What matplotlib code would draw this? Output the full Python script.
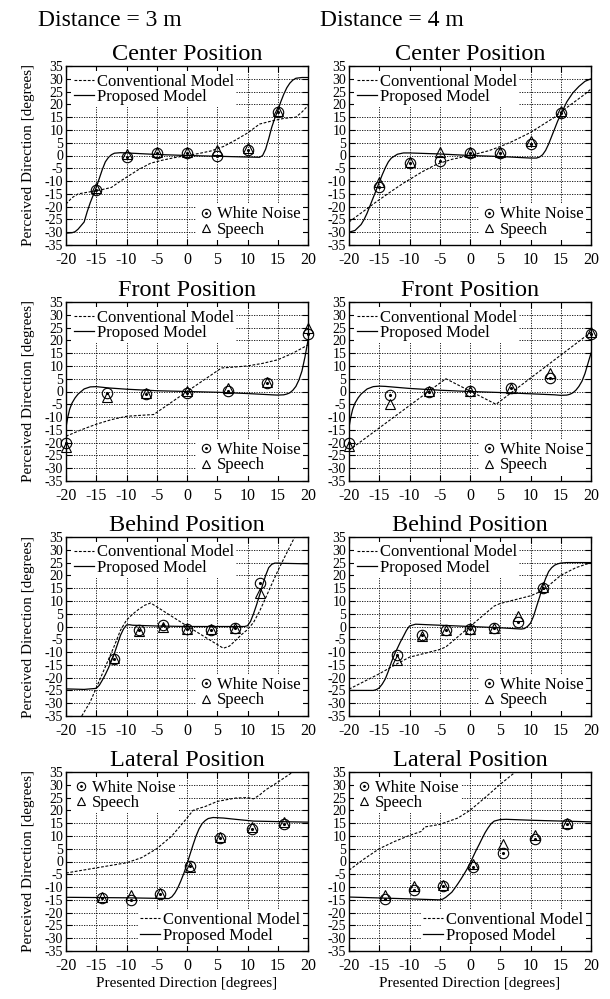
"""Perceived vs presented direction, 3 m and 4 m, four loudspeaker positions."""

import matplotlib
matplotlib.use("Agg")
import matplotlib.pyplot as plt

plt.rcParams["font.family"] = ["Liberation Serif", "DejaVu Serif"]
plt.rcParams["axes.unicode_minus"] = False

# ---- data ------------------------------------------------------------------
distances = ["Distance = 3 m", "Distance = 4 m"]
positions = ["Center Position", "Front Position", "Behind Position", "Lateral Position"]

# Center, 3 m
center3_x = [-15, -10, -5, 0, 5, 10, 15]
center3_noise = [-13.6, -0.6, 0.9, 0.9, 0.0, 2.0, 17.0]
center3_speech = [-12.7, 0.6, 1.2, 1.2, 2.2, 2.8, 17.3]
center3_conv_x = [-20, -19, -18, -16, -14, -12.5, -11, -10, -8, -6, -4, -2, 0, 2, 4, 6, 8, 10, 12, 14, 16, 18, 19, 20]
center3_conv_y = [-19, -16.5, -15, -14.2, -13.3, -12.5, -10, -8.5, -5.5, -3, -1.8, -0.8, 0, 0.8, 1.8, 3.5, 6, 8.8, 12.3, 13.5, 14.5, 15, 17, 19.5]
center3_prop_x = [-20, -19, -18.5, -18, -17, -16.5, -16, -15.5, -15, -14.5, -14, -13.5, -13, -12.5, -12, -11, -10, -5, 0, 5, 10, 12, 12.5, 13, 13.5, 14, 14.5, 15, 15.5, 16, 16.5, 17, 17.5, 18, 19, 20]
center3_prop_y = [-30.4, -30.2, -29.8, -28.8, -26, -22, -18.5, -15.5, -12.5, -9, -5.5, -2.5, -0.8, 0.3, 0.9, 1.1, 1.0, 0.4, 0, -0.3, -0.6, -0.7, 0, 2.5, 6.5, 11, 14.5, 17.5, 21, 24, 26.5, 28.3, 29.5, 30.2, 30.5, 30.5]

# Center, 4 m
center4_x = [-15, -10, -5, 0, 5, 10, 15]
center4_noise = [-12.3, -3.0, -2.0, 0.9, 0.9, 4.5, 16.7]
center4_speech = [-10.5, -2.6, 1.2, 1.3, 1.5, 5.7, 17.3]
center4_conv_x = [-20, -18, -16, -15, -13, -11, -10, -8, -6, -5, -3, 0, 3, 5, 7, 10, 12, 14, 15, 17, 19, 20]
center4_conv_y = [-26, -22.5, -19, -17.3, -14, -10.8, -9.4, -6.5, -4, -3, -1.5, 0, 1.8, 3.5, 5.5, 9, 12, 15, 17, 20.5, 24, 26]
center4_prop_x = [-20, -19, -18, -17.5, -17, -16.5, -16, -15.5, -15, -14.5, -14, -13.5, -13, -12, -11, -10, -5, 0, 5, 10, 11, 11.5, 12, 12.5, 13, 13.5, 14, 14.5, 15, 15.5, 16, 17, 18, 19, 20]
center4_prop_y = [-30, -29.3, -27, -25, -22.5, -19.5, -16.5, -13.5, -10.5, -7.5, -4.8, -2.5, -1, 0.5, 1, 1, 0.6, 0, -0.4, -1, -1, -0.6, 0.3, 2, 4.5, 7.5, 10.5, 13.5, 16, 18.5, 21, 24.5, 27, 29, 30]

# Front, 3 m
front3_x = [-20, -13.3, -6.7, 0, 6.7, 13.3, 20]
front3_noise = [-20.3, -0.5, -0.8, -0.5, 0.1, 3.4, 22.6]
front3_speech = [-21.8, -2.1, -0.5, 0.3, 1.2, 3.7, 24.9]
front3_conv_x = [-20, -17.5, -15, -12.5, -10, -7.5, -5.5, 0, 5.7, 7.5, 10, 12.5, 15, 17.5, 20]
front3_conv_y = [-17.5, -15, -12.8, -11, -9.7, -9.3, -9, 0, 9.2, 9.5, 10, 11, 12.4, 15, 18.2]
front3_prop_x = [-20, -19.7, -19.4, -19, -18.5, -18, -17, -16, -15, -13, -10, -5, 0, 5, 10, 14, 15, 16, 16.5, 17, 17.5, 18, 18.5, 19, 19.5, 20]
front3_prop_y = [-14, -10, -7, -4.5, -2.5, -1, 1, 1.8, 1.9, 1.4, 0.9, 0.3, 0, -0.3, -0.8, -1.3, -1.4, -1.3, -1, -0.5, 0.5, 2, 4.5, 8, 13.5, 20]

# Front, 4 m
front4_x = [-20, -13.3, -6.7, 0, 6.7, 13.3, 20]
front4_noise = [-20.1, -1.4, 0.0, 0.3, 1.4, 5.4, 22.6]
front4_speech = [-21.2, -4.7, 0.3, 0.3, 1.4, 7.1, 23.2]
front4_conv_x = [-20, -4, 4.3, 20]
front4_conv_y = [-23, 5, -5, 23.2]
front4_prop_x = [-20, -19.7, -19.4, -19, -18.5, -18, -17, -16, -15, -14, -10, -5, 0, 5, 10, 14, 15, 16, 16.5, 17, 17.5, 18, 18.5, 19, 19.5, 20]
front4_prop_y = [-14, -10, -7, -4.5, -2.5, -1, 1, 1.9, 2.1, 2, 1.2, 0.5, 0, -0.4, -0.9, -1.3, -1.5, -1.4, -1.1, -0.5, 0.5, 2, 4, 7, 11, 15]

# Behind, 3 m
behind3_x = [-12, -8, -4, 0, 4, 8, 12]
behind3_noise = [-12.7, -1.3, 0.4, -1.0, -1.3, -0.4, 16.9]
behind3_speech = [-12.3, -1.7, 0.0, -0.8, -1.0, -0.4, 13.2]
behind3_conv_x = [-17.4, -16, -15, -14, -13, -12, -11, -10, -9, -8, -7, -6, 0, 6, 7, 8, 9, 10, 11, 12, 13, 14, 15, 16, 17, 17.8]
behind3_conv_y = [-35, -29.5, -24, -18.5, -13, -7.5, -1.5, 2.5, 4.8, 6.7, 8.3, 9.2, 0.2, -8.5, -7.7, -5.5, -3.2, -1.2, 1.6, 6, 11.2, 16.5, 21.7, 26.5, 31.2, 35]
behind3_prop_x = [-20, -17, -15, -14.5, -14, -13.5, -13, -12.5, -12, -11.5, -11, -10.5, -10, -9.5, -9, -5, 0, 5, 9, 9.5, 10, 10.5, 11, 11.5, 12, 12.5, 13, 13.5, 14, 14.5, 15, 16, 20]
behind3_prop_y = [-24.4, -24.6, -24.2, -23, -21, -18.8, -16.3, -13.5, -10.5, -7, -3.5, -1, 0.6, 0.7, 0.5, 0.2, 0, 0, 0, 0, 0.3, 2, 5, 8.5, 12.3, 16.3, 20, 23, 24.3, 24.8, 24.8, 24.7, 24.5]

# Behind, 4 m
behind4_x = [-12, -8, -4, 0, 4, 8, 12]
behind4_noise = [-11.0, -3.5, -1.3, -1.0, -0.6, 1.6, 15.2]
behind4_speech = [-13.2, -3.9, -1.3, -1.0, -0.6, 4.2, 15.6]
behind4_conv_x = [-20, -17.5, -15, -12, -10, -7.5, -5, -4, -3, -2, -1, 0, 1, 2, 3, 4, 5, 7.5, 10, 12, 13, 15, 17.5, 20]
behind4_conv_y = [-24.5, -21.5, -18.5, -14.5, -12, -10.5, -9, -8, -6, -4, -2, 0, 2, 4, 6, 8, 9, 10.5, 12, 14, 16, 20, 23, 25]
behind4_prop_x = [-20, -16, -15.5, -15, -14.5, -14, -13.5, -13, -12.5, -12, -11.5, -11, -10.5, -10, -9, -5, 0, 5, 8.5, 9, 9.5, 10, 10.5, 11, 11.5, 12, 12.5, 13, 13.5, 14, 14.5, 15, 16, 20]
behind4_prop_y = [-25, -25, -24.7, -24, -22.5, -20.5, -17.5, -14, -11, -8.5, -6, -3.8, -1.5, 0.2, 0.9, 0.5, 0, -0.5, -1, -0.8, 0, 1.3, 4, 7.8, 11.5, 15.5, 18.8, 21.5, 23, 24, 24.5, 24.8, 25, 25]

# Lateral, 3 m
lateral3_x = [-14, -9.3, -4.5, 0.5, 5.5, 10.8, 16]
lateral3_noise = [-14.3, -15.2, -12.8, -1.9, 9.3, 12.6, 14.8]
lateral3_speech = [-13.9, -13.2, -12.3, -2.2, 9.6, 13.5, 15.4]
lateral3_conv_x = [-20, -17.5, -15, -12.5, -10, -7.5, -5, -2.5, 0, 1, 2, 3, 5, 8, 10, 11, 12, 13, 15, 17.5]
lateral3_conv_y = [-4.5, -3.5, -2.5, -1.5, -0.5, 1.5, 5, 10, 17, 20, 20.8, 21.5, 23.5, 24.8, 25, 24.5, 26, 28, 31, 35]
lateral3_prop_x = [-20, -10, -5, -3, -2.5, -2, -1.5, -1, -0.5, 0, 0.5, 1, 1.5, 2, 2.5, 3, 3.5, 4.3, 6, 8, 11, 15, 20]
lateral3_prop_y = [-14, -14.2, -14.4, -14.5, -13.8, -12.3, -10.2, -7.5, -4.5, -1, 2.8, 6.5, 10, 12.8, 14.8, 16, 16.8, 17.2, 17, 16.5, 15.8, 15.6, 15.4]

# Lateral, 4 m
lateral4_x = [-14, -9.3, -4.5, 0.5, 5.5, 10.8, 16]
lateral4_noise = [-14.5, -11.3, -9.6, -2.2, 3.5, 8.9, 14.5]
lateral4_speech = [-13.2, -9.7, -9.1, -1.1, 7.0, 10.2, 15.1]
lateral4_conv_x = [-20, -17.5, -15, -12.5, -10, -8, -7.5, -5, -2, 0, 2.5, 5, 7.5]
lateral4_conv_y = [-3.4, 1, 5, 7.8, 10.2, 11.8, 13.5, 14.5, 17, 20, 25, 30.2, 35]
lateral4_prop_x = [-20, -11.6, -5, -4.5, -4, -3.5, -3, -2.5, -2, -1.5, -1, -0.5, 0, 0.5, 1, 1.5, 2, 2.5, 3, 3.5, 4, 5, 6, 10.5, 20]
lateral4_prop_y = [-13.9, -14.5, -15, -14.7, -14, -13, -12, -10.4, -8.7, -6.9, -5, -3, -0.8, 1.8, 4.3, 6.6, 9, 11.3, 13.2, 14.8, 15.8, 16.4, 16.5, 16.1, 15.5]

xticks = list(range(-20, 25, 5))
yticks = list(range(-35, 40, 5))

panels = [
    [(center3_x, center3_noise, center3_speech, center3_conv_x, center3_conv_y, center3_prop_x, center3_prop_y),
     (center4_x, center4_noise, center4_speech, center4_conv_x, center4_conv_y, center4_prop_x, center4_prop_y)],
    [(front3_x, front3_noise, front3_speech, front3_conv_x, front3_conv_y, front3_prop_x, front3_prop_y),
     (front4_x, front4_noise, front4_speech, front4_conv_x, front4_conv_y, front4_prop_x, front4_prop_y)],
    [(behind3_x, behind3_noise, behind3_speech, behind3_conv_x, behind3_conv_y, behind3_prop_x, behind3_prop_y),
     (behind4_x, behind4_noise, behind4_speech, behind4_conv_x, behind4_conv_y, behind4_prop_x, behind4_prop_y)],
    [(lateral3_x, lateral3_noise, lateral3_speech, lateral3_conv_x, lateral3_conv_y, lateral3_prop_x, lateral3_prop_y),
     (lateral4_x, lateral4_noise, lateral4_speech, lateral4_conv_x, lateral4_conv_y, lateral4_prop_x, lateral4_prop_y)],
]

# ---- layout -----------------------------------------------------------------
W, H = 610, 999
fig = plt.figure(figsize=(W / 100, H / 100), dpi=100)

col_left = [66, 349]
row_top = [66, 302, 537, 772]
ax_w, ax_h = 242, 179

legend_kw = dict(frameon=True, facecolor="white", edgecolor="none", framealpha=1.0,
                 fancybox=False, fontsize=12, borderpad=0.15, labelspacing=-0.05,
                 handletextpad=0.2, borderaxespad=0.3)

for r, row in enumerate(panels):
    for c, (mx, noise, speech, cx, cy, px, py) in enumerate(row):
        ax = fig.add_axes([col_left[c] / W, 1 - (row_top[r] + ax_h) / H, ax_w / W, ax_h / H])

        conv, = ax.plot(cx, cy, color="k", lw=0.8, ls=(0, (2.5, 1.5)))
        prop, = ax.plot(px, py, color="k", lw=0.9)

        circ, = ax.plot(mx, noise, "o", ms=7.5, mfc="none", mec="k", mew=0.8, clip_on=False)
        dot, = ax.plot(mx, noise, ".", ms=2.5, color="k", clip_on=False)
        tri, = ax.plot(mx, speech, "^", ms=7, mfc="none", mec="k", mew=0.8, clip_on=False)

        ax.set_xlim(-20, 20)
        ax.set_ylim(-35, 35)
        ax.set_xticks(xticks)
        ax.set_yticks(yticks)
        ax.grid(True, color="k", lw=0.6, ls=(0, (1.5, 1.5)))
        ax.tick_params(direction="in", top=True, right=True, length=4, width=0.8)
        ax.tick_params(axis="x", labelsize=11.5, pad=5)
        ax.tick_params(axis="y", labelsize=10, pad=2)
        for sp in ax.spines.values():
            sp.set_linewidth(1.0)

        ax.set_title(positions[r], fontsize=17.5, pad=4)
        if c == 0:
            ax.set_ylabel("Perceived Direction [degrees]", fontsize=11, labelpad=7)
        if r == len(panels) - 1:
            ax.set_xlabel("Presented Direction [degrees]", fontsize=11, labelpad=2)

        if r < 3:
            model_loc, marker_loc = "upper left", "lower right"
        else:
            model_loc, marker_loc = "lower right", "upper left"

        leg1 = ax.legend([conv, prop], ["Conventional Model", "Proposed Model"],
                         loc=model_loc, handlelength=1.2, **legend_kw)
        ax.add_artist(leg1)
        ax.legend([(circ, dot), tri], ["White Noise", "Speech"], loc=marker_loc,
                  handlelength=0.9, numpoints=1, markerscale=0.8, **legend_kw)

for c, label in enumerate(distances):
    fig.text([38, 320][c] / W, 1 - 20 / H, label, fontsize=17, ha="left", va="center")

fig.savefig("out.png", dpi=100)
